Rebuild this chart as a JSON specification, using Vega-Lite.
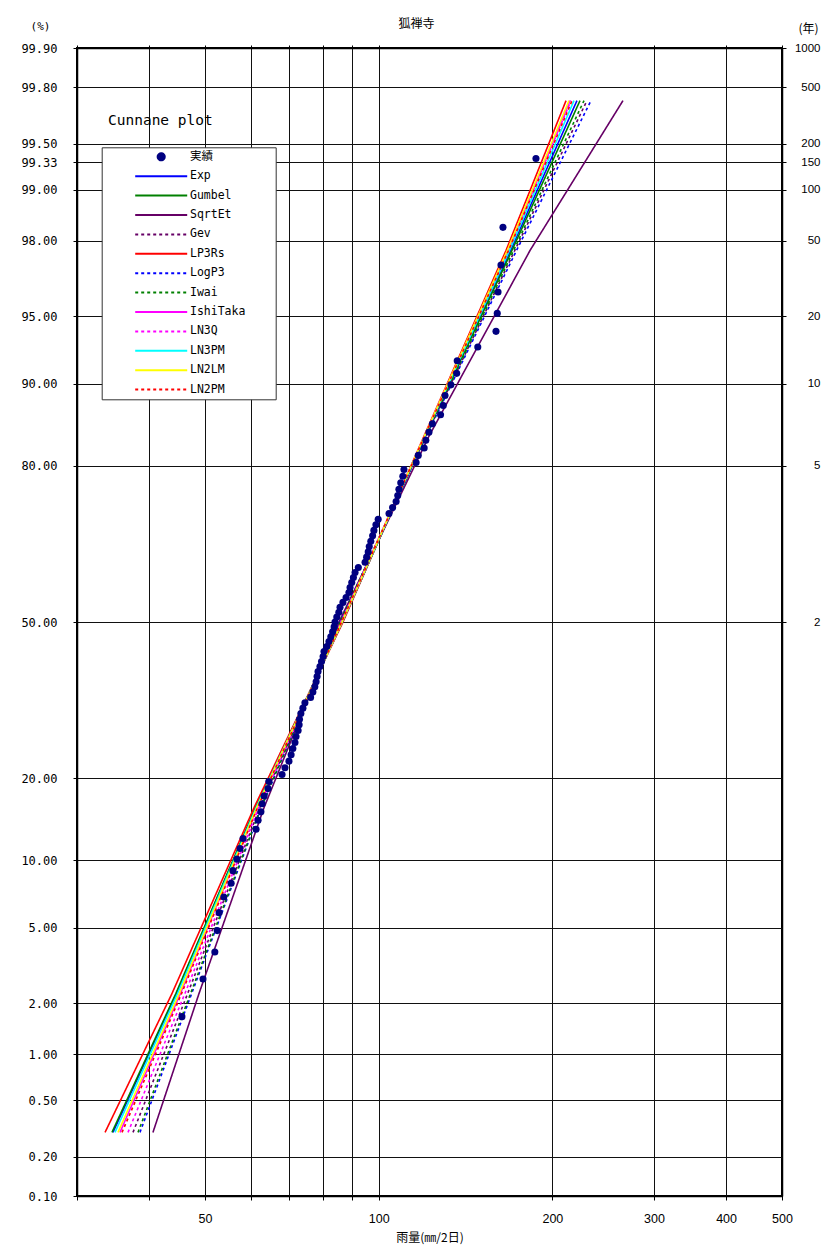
{
  "$schema": "https://vega.github.io/schema/vega-lite/v6.json",
  "width": 705,
  "height": 1148,
  "autosize": "none",
  "padding": {"left": 77, "top": 48, "right": 44, "bottom": 62},
  "background": "white",
  "title": {"text": "狐禅寺", "font": "Noto Sans CJK JP", "fontSize": 12, "fontWeight": "normal", "color": "#000", "anchor": "middle", "dx": -13, "dy": 11, "offset": 0},
  "datasets": {
    "obs": [
      {"series": "実績", "rain": 45.6, "p": 1.681},
      {"series": "実績", "rain": 49.6, "p": 2.731},
      {"series": "実績", "rain": 52.0, "p": 3.782},
      {"series": "実績", "rain": 52.5, "p": 4.832},
      {"series": "実績", "rain": 52.9, "p": 5.882},
      {"series": "実績", "rain": 53.9, "p": 6.933},
      {"series": "実績", "rain": 55.5, "p": 7.983},
      {"series": "実績", "rain": 55.9, "p": 9.034},
      {"series": "実績", "rain": 56.8, "p": 10.084},
      {"series": "実績", "rain": 57.5, "p": 11.134},
      {"series": "実績", "rain": 58.2, "p": 12.185},
      {"series": "実績", "rain": 61.3, "p": 13.235},
      {"series": "実績", "rain": 61.8, "p": 14.286},
      {"series": "実績", "rain": 62.5, "p": 15.336},
      {"series": "実績", "rain": 62.8, "p": 16.387},
      {"series": "実績", "rain": 63.3, "p": 17.437},
      {"series": "実績", "rain": 64.3, "p": 18.487},
      {"series": "実績", "rain": 64.5, "p": 19.538},
      {"series": "実績", "rain": 68.0, "p": 20.588},
      {"series": "実績", "rain": 68.8, "p": 21.639},
      {"series": "実績", "rain": 69.9, "p": 22.689},
      {"series": "実績", "rain": 70.5, "p": 23.739},
      {"series": "実績", "rain": 71.0, "p": 24.790},
      {"series": "実績", "rain": 71.6, "p": 25.840},
      {"series": "実績", "rain": 71.9, "p": 26.891},
      {"series": "実績", "rain": 72.5, "p": 27.941},
      {"series": "実績", "rain": 72.8, "p": 28.992},
      {"series": "実績", "rain": 72.9, "p": 30.042},
      {"series": "実績", "rain": 73.3, "p": 31.092},
      {"series": "実績", "rain": 73.9, "p": 32.143},
      {"series": "実績", "rain": 74.5, "p": 33.193},
      {"series": "実績", "rain": 76.2, "p": 34.244},
      {"series": "実績", "rain": 76.9, "p": 35.294},
      {"series": "実績", "rain": 77.5, "p": 36.345},
      {"series": "実績", "rain": 77.9, "p": 37.395},
      {"series": "実績", "rain": 78.2, "p": 38.445},
      {"series": "実績", "rain": 78.5, "p": 39.496},
      {"series": "実績", "rain": 79.1, "p": 40.546},
      {"series": "実績", "rain": 79.6, "p": 41.597},
      {"series": "実績", "rain": 80.1, "p": 42.647},
      {"series": "実績", "rain": 80.4, "p": 43.697},
      {"series": "実績", "rain": 81.3, "p": 44.748},
      {"series": "実績", "rain": 82.0, "p": 45.798},
      {"series": "実績", "rain": 82.6, "p": 46.849},
      {"series": "実績", "rain": 83.2, "p": 47.899},
      {"series": "実績", "rain": 83.7, "p": 48.950},
      {"series": "実績", "rain": 84.0, "p": 50.000},
      {"series": "実績", "rain": 84.6, "p": 51.050},
      {"series": "実績", "rain": 85.3, "p": 52.101},
      {"series": "実績", "rain": 85.7, "p": 53.151},
      {"series": "実績", "rain": 86.7, "p": 54.202},
      {"series": "実績", "rain": 87.8, "p": 55.252},
      {"series": "実績", "rain": 88.8, "p": 56.303},
      {"series": "実績", "rain": 89.2, "p": 57.353},
      {"series": "実績", "rain": 89.8, "p": 58.403},
      {"series": "実績", "rain": 90.4, "p": 59.454},
      {"series": "実績", "rain": 91.0, "p": 60.504},
      {"series": "実績", "rain": 92.2, "p": 61.555},
      {"series": "実績", "rain": 94.7, "p": 62.605},
      {"series": "実績", "rain": 95.3, "p": 63.655},
      {"series": "実績", "rain": 95.9, "p": 64.706},
      {"series": "実績", "rain": 96.3, "p": 65.756},
      {"series": "実績", "rain": 96.9, "p": 66.807},
      {"series": "実績", "rain": 97.6, "p": 67.857},
      {"series": "実績", "rain": 98.1, "p": 68.908},
      {"series": "実績", "rain": 98.9, "p": 69.958},
      {"series": "実績", "rain": 99.8, "p": 71.008},
      {"series": "実績", "rain": 104.2, "p": 72.059},
      {"series": "実績", "rain": 105.7, "p": 73.109},
      {"series": "実績", "rain": 107.2, "p": 74.160},
      {"series": "実績", "rain": 107.9, "p": 75.210},
      {"series": "実績", "rain": 108.4, "p": 76.261},
      {"series": "実績", "rain": 109.2, "p": 77.311},
      {"series": "実績", "rain": 110.1, "p": 78.361},
      {"series": "実績", "rain": 110.6, "p": 79.412},
      {"series": "実績", "rain": 116.1, "p": 80.462},
      {"series": "実績", "rain": 117.1, "p": 81.513},
      {"series": "実績", "rain": 119.9, "p": 82.563},
      {"series": "実績", "rain": 120.7, "p": 83.613},
      {"series": "実績", "rain": 122.2, "p": 84.664},
      {"series": "実績", "rain": 123.9, "p": 85.714},
      {"series": "実績", "rain": 128.0, "p": 86.765},
      {"series": "実績", "rain": 129.4, "p": 87.815},
      {"series": "実績", "rain": 130.3, "p": 88.866},
      {"series": "実績", "rain": 133.4, "p": 89.916},
      {"series": "実績", "rain": 136.5, "p": 90.966},
      {"series": "実績", "rain": 136.8, "p": 92.017},
      {"series": "実績", "rain": 148.5, "p": 93.067},
      {"series": "実績", "rain": 159.7, "p": 94.118},
      {"series": "実績", "rain": 160.5, "p": 95.168},
      {"series": "実績", "rain": 161.0, "p": 96.218},
      {"series": "実績", "rain": 162.9, "p": 97.269},
      {"series": "実績", "rain": 164.2, "p": 98.319},
      {"series": "実績", "rain": 187.3, "p": 99.370}
    ],
    "fits": [
      {"series": "Exp", "rain": 34.63, "p": 0.3},
      {"series": "Exp", "rain": 44.62, "p": 2.275},
      {"series": "Exp", "rain": 61.21, "p": 15.866},
      {"series": "Exp", "rain": 86.48, "p": 50},
      {"series": "Exp", "rain": 120.3, "p": 84.134},
      {"series": "Exp", "rain": 169.27, "p": 97.725},
      {"series": "Exp", "rain": 220.6, "p": 99.75},
      {"series": "Gumbel", "rain": 34.49, "p": 0.3},
      {"series": "Gumbel", "rain": 44.51, "p": 2.275},
      {"series": "Gumbel", "rain": 61.16, "p": 15.866},
      {"series": "Gumbel", "rain": 86.51, "p": 50},
      {"series": "Gumbel", "rain": 120.39, "p": 84.134},
      {"series": "Gumbel", "rain": 170.16, "p": 97.725},
      {"series": "Gumbel", "rain": 223.3, "p": 99.75},
      {"series": "SqrtEt", "rain": 40.62, "p": 0.3},
      {"series": "SqrtEt", "rain": 48.82, "p": 2.275},
      {"series": "SqrtEt", "rain": 63.27, "p": 15.866},
      {"series": "SqrtEt", "rain": 85.35, "p": 50},
      {"series": "SqrtEt", "rain": 122.2, "p": 84.134},
      {"series": "SqrtEt", "rain": 182.9, "p": 97.725},
      {"series": "SqrtEt", "rain": 265.1, "p": 99.75},
      {"series": "Gev", "rain": 37.51, "p": 0.3},
      {"series": "Gev", "rain": 46.66, "p": 2.275},
      {"series": "Gev", "rain": 62.22, "p": 15.866},
      {"series": "Gev", "rain": 85.93, "p": 50},
      {"series": "Gev", "rain": 120.68, "p": 84.134},
      {"series": "Gev", "rain": 172.13, "p": 97.725},
      {"series": "Gev", "rain": 229.6, "p": 99.75},
      {"series": "LP3Rs", "rain": 33.55, "p": 0.3},
      {"series": "LP3Rs", "rain": 43.83, "p": 2.275},
      {"series": "LP3Rs", "rain": 60.80, "p": 15.866},
      {"series": "LP3Rs", "rain": 86.72, "p": 50},
      {"series": "LP3Rs", "rain": 119.8, "p": 84.134},
      {"series": "LP3Rs", "rain": 166.2, "p": 97.725},
      {"series": "LP3Rs", "rain": 211.2, "p": 99.75},
      {"series": "LogP3", "rain": 38.57, "p": 0.3},
      {"series": "LogP3", "rain": 47.41, "p": 2.275},
      {"series": "LogP3", "rain": 62.59, "p": 15.866},
      {"series": "LogP3", "rain": 85.72, "p": 50},
      {"series": "LogP3", "rain": 120.87, "p": 84.134},
      {"series": "LogP3", "rain": 173.31, "p": 97.725},
      {"series": "LogP3", "rain": 233.3, "p": 99.75},
      {"series": "Iwai", "rain": 38.27, "p": 0.3},
      {"series": "Iwai", "rain": 47.20, "p": 2.275},
      {"series": "Iwai", "rain": 62.49, "p": 15.866},
      {"series": "Iwai", "rain": 85.77, "p": 50},
      {"series": "Iwai", "rain": 120.58, "p": 84.134},
      {"series": "Iwai", "rain": 171.31, "p": 97.725},
      {"series": "Iwai", "rain": 226.9, "p": 99.75},
      {"series": "IshiTaka", "rain": 35.61, "p": 0.3},
      {"series": "IshiTaka", "rain": 45.32, "p": 2.275},
      {"series": "IshiTaka", "rain": 61.55, "p": 15.866},
      {"series": "IshiTaka", "rain": 86.29, "p": 50},
      {"series": "IshiTaka", "rain": 119.99, "p": 84.134},
      {"series": "IshiTaka", "rain": 167.33, "p": 97.725},
      {"series": "IshiTaka", "rain": 214.6, "p": 99.75},
      {"series": "LN3Q", "rain": 36.77, "p": 0.3},
      {"series": "LN3Q", "rain": 46.15, "p": 2.275},
      {"series": "LN3Q", "rain": 61.97, "p": 15.866},
      {"series": "LN3Q", "rain": 86.07, "p": 50},
      {"series": "LN3Q", "rain": 120.01, "p": 84.134},
      {"series": "LN3Q", "rain": 167.6, "p": 97.725},
      {"series": "LN3Q", "rain": 215.4, "p": 99.75},
      {"series": "LN3PM", "rain": 34.91, "p": 0.3},
      {"series": "LN3PM", "rain": 44.82, "p": 2.275},
      {"series": "LN3PM", "rain": 61.31, "p": 15.866},
      {"series": "LN3PM", "rain": 86.44, "p": 50},
      {"series": "LN3PM", "rain": 120.15, "p": 84.134},
      {"series": "LN3PM", "rain": 168.46, "p": 97.725},
      {"series": "LN3PM", "rain": 218.0, "p": 99.75},
      {"series": "LN2LM", "rain": 35.33, "p": 0.3},
      {"series": "LN2LM", "rain": 45.12, "p": 2.275},
      {"series": "LN2LM", "rain": 61.46, "p": 15.866},
      {"series": "LN2LM", "rain": 86.34, "p": 50},
      {"series": "LN2LM", "rain": 119.96, "p": 84.134},
      {"series": "LN2LM", "rain": 167.06, "p": 97.725},
      {"series": "LN2LM", "rain": 213.7, "p": 99.75},
      {"series": "LN2PM", "rain": 35.90, "p": 0.3},
      {"series": "LN2PM", "rain": 45.54, "p": 2.275},
      {"series": "LN2PM", "rain": 61.65, "p": 15.866},
      {"series": "LN2PM", "rain": 86.24, "p": 50},
      {"series": "LN2PM", "rain": 120.06, "p": 84.134},
      {"series": "LN2PM", "rain": 167.86, "p": 97.725},
      {"series": "LN2PM", "rain": 216.3, "p": 99.75}
    ]
  },
  "resolve": {"axis": {"x": "independent", "y": "independent"}},
  "layer": [
    {
      "data": {"name": "fits"},
      "transform": [{"calculate": "quantileNormal(datum.p / 100)", "as": "z"}],
      "mark": {"type": "line", "strokeWidth": 1.6},
      "encoding": {
        "x": {
          "field": "rain", "type": "quantitative",
          "scale": {"type": "log", "domain": [30, 500], "nice": false, "zero": false},
          "axis": {
            "orient": "bottom",
            "values": [30, 40, 50, 60, 70, 80, 90, 100, 200, 300, 400, 500],
            "format": "d",
            "labelExpr": "indexof([50, 100, 200, 300, 400, 500], datum.value) >= 0 ? datum.label : ''",
            "grid": true,
            "labelFont": "Liberation Sans Narrow, Liberation Sans",
            "labelFontSize": 12.5,
            "labelPadding": 12,
            "title": "雨量(㎜/2日)",
            "titleFont": "Noto Sans CJK JP",
            "titleFontSize": 12,
            "titleY": 41,
            "titleBaseline": "middle"
          }
        },
        "y": {
          "field": "z", "type": "quantitative",
          "scale": {"domain": [-3.090232, 3.090232], "nice": false, "zero": false},
          "axis": {
            "orient": "left",
            "values": [3.090232, 2.878162, 2.575829, 2.474705, 2.326348, 2.053749, 1.644854, 1.281552, 0.841621, 0, -0.841621, -1.281552, -1.644854, -2.053749, -2.326348, -2.575829, -2.878162, -3.090232],
            "labelExpr": "format(cumulativeNormal(datum.value) * 100, '.2f')",
            "grid": true,
            "labelFont": "DejaVu Sans Mono",
            "labelFontSize": 12,
            "labelPadding": 16,
            "title": "(%)",
            "titleFont": "DejaVu Sans Mono",
            "titleFontSize": 11,
            "titleAngle": 0,
            "titleX": -37,
            "titleY": -22,
            "titleAlign": "center",
            "titleBaseline": "middle"
          }
        },
        "color": {
          "field": "series", "type": "nominal",
          "scale": {
            "domain": ["実績", "Exp", "Gumbel", "SqrtEt", "Gev", "LP3Rs", "LogP3", "Iwai", "IshiTaka", "LN3Q", "LN3PM", "LN2LM", "LN2PM"],
            "range": ["#000080", "#0000FF", "#008000", "#660066", "#660066", "#FF0000", "#0000FF", "#008000", "#FF00FF", "#FF00FF", "#00FFFF", "#FFFF00", "#FF0000"]
          },
          "legend": {
            "orient": "none",
            "legendX": 24.7,
            "legendY": 99.3,
            "title": null,
            "labelExpr": "datum.label + '\u2800\u2800\u2800'",
            "encode": {
              "symbols": {
                "update": {
                  "shape": {"signal": "datum.value === '実績' ? 'circle' : 'stroke'"},
                  "size": {"signal": "datum.value === '実績' ? 50 : 2704"},
                  "fill": {"signal": "datum.value === '実績' ? '#000080' : 'transparent'"},
                  "stroke": {"signal": "datum.value === '実績' ? '#000080' : scale('color', datum.value)"},
                  "strokeDash": {"signal": "indexof(['Gev', 'LogP3', 'Iwai', 'LN3Q', 'LN2PM'], datum.value) >= 0 ? [3, 3] : [1, 0]"},
                  "strokeWidth": {"value": 2},
                  "opacity": {"value": 1}
                }
              }
            }
          }
        },
        "strokeDash": {
          "field": "series", "type": "nominal",
          "scale": {
            "domain": ["実績", "Exp", "Gumbel", "SqrtEt", "Gev", "LP3Rs", "LogP3", "Iwai", "IshiTaka", "LN3Q", "LN3PM", "LN2LM", "LN2PM"],
            "range": [[1, 0], [1, 0], [1, 0], [1, 0], [3, 3], [1, 0], [3, 3], [3, 3], [1, 0], [3, 3], [1, 0], [1, 0], [3, 3]]
          },
          "legend": null
        }
      }
    },
    {
      "data": {"name": "obs"},
      "transform": [{"calculate": "quantileNormal(datum.p / 100)", "as": "z"}],
      "mark": {"type": "circle", "size": 50, "opacity": 1},
      "encoding": {
        "x": {
          "field": "rain", "type": "quantitative",
          "axis": {"orient": "top", "values": [30, 40, 50, 60, 70, 80, 90, 100, 200, 300, 400, 500], "labels": false, "grid": false, "tickSize": 3, "title": null}
        },
        "y": {
          "field": "z", "type": "quantitative",
          "axis": {
            "orient": "right",
            "values": [3.090232, 2.878162, 2.575829, 2.474705, 2.326348, 2.053749, 1.644854, 1.281552, 0.841621, 0],
            "labelExpr": "format(round(1 / (1 - cumulativeNormal(datum.value))), 'd')",
            "grid": false,
            "labelFont": "Liberation Sans",
            "labelFontSize": 11.5,
            "labelAlign": "right",
            "labelPadding": 34,
            "title": "(年)",
            "titleFont": "Noto Sans CJK JP",
            "titleFontSize": 12,
            "titleAngle": 0,
            "titleX": 26,
            "titleY": -20,
            "titleAlign": "center",
            "titleBaseline": "middle"
          }
        },
        "color": {"field": "series", "type": "nominal"}
      }
    },
    {
      "data": {"values": [{}]},
      "mark": {"type": "text", "align": "left", "baseline": "middle", "font": "DejaVu Sans Mono", "fontSize": 14.5, "color": "#000"},
      "encoding": {
        "x": {"datum": 33.95, "type": "quantitative", "axis": null},
        "y": {"datum": 2.695, "type": "quantitative", "axis": null},
        "text": {"value": "Cunnane plot"}
      }
    }
  ],
  "config": {
    "view": {"stroke": "#000", "strokeWidth": 2},
    "axis": {
      "domainColor": "#000", "domainWidth": 1.5,
      "tickColor": "#000", "tickSize": 4, "tickWidth": 1,
      "gridColor": "#111", "gridOpacity": 1, "gridWidth": 1,
      "labelColor": "#000", "titleColor": "#000", "titleFontWeight": "normal",
      "labelFlush": false, "labelOverlap": false, "labelBound": false
    },
    "legend": {
      "padding": 3,
      "strokeColor": "#333",
      "fillColor": "#fff",
      "symbolType": "stroke",
      "symbolSize": 2704,
      "symbolStrokeWidth": 2,
      "symbolOffset": 29.5,
      "labelFont": "DejaVu Sans Mono, Noto Sans CJK JP",
      "labelFontSize": 11.5,
      "labelColor": "#000",
      "labelOffset": 1.8,
      "labelLimit": 0,
      "clipHeight": 13,
      "rowPadding": 6.4
    }
  }
}
